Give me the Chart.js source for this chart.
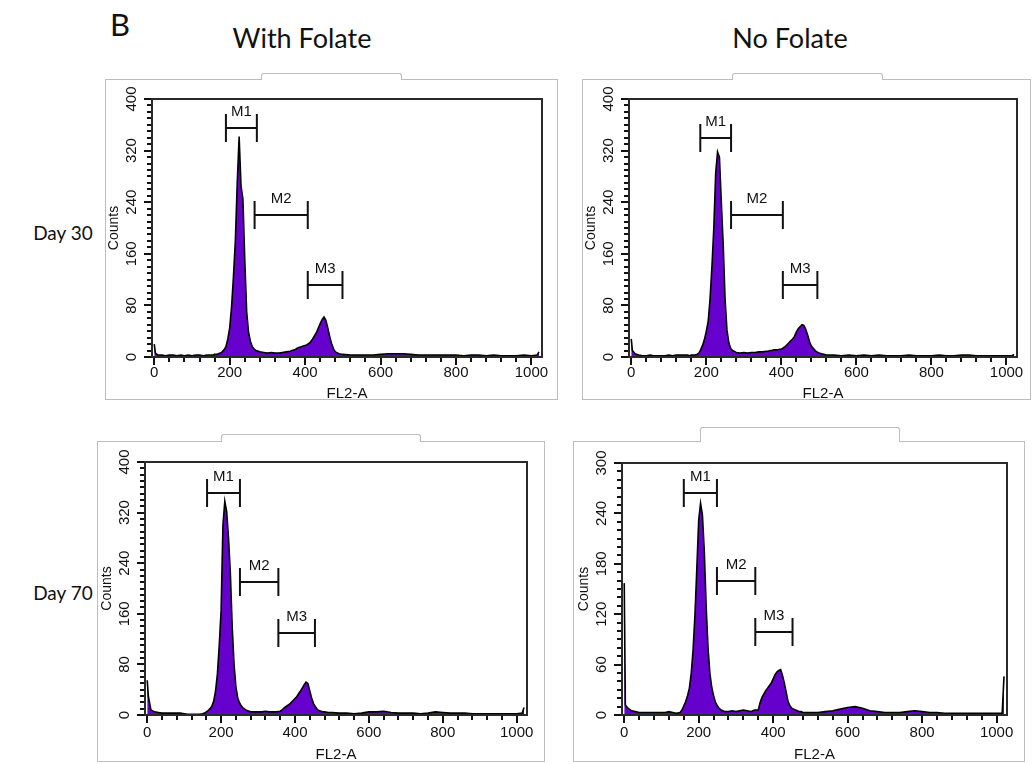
<!DOCTYPE html>
<html>
<head>
<meta charset="utf-8">
<script src="https://cdn.jsdelivr.net/npm/chart.js@4.4.1/dist/chart.umd.min.js"></script>
<style>
    body { margin: 0; width: 1033px; height: 764px; position: relative; overflow: hidden; background: #fff; font-family: Lato, "Open Sans", sans-serif; }
    .label { position: absolute; color: #111; white-space: nowrap; line-height: 1; transform: translate(-50%, -50%); }
    .frame { position: absolute; border: 1px solid #bdbdbd; box-sizing: border-box; }
    .tab { position: absolute; border: 1px solid #bdbdbd; border-bottom: none; background: #fff; border-radius: 3px 3px 0 0; box-sizing: border-box; }
    canvas { position: absolute; }
</style>
</head>
<body>
<div class="frame" style="left:105px; top:79px; width:453px; height:321px;"></div>
<div class="tab" style="left:261px; top:73px; width:141px; height:7px;"></div>
<div class="frame" style="left:582px; top:79px; width:449px; height:321px;"></div>
<div class="tab" style="left:732px; top:73px; width:151px; height:7px;"></div>
<div class="frame" style="left:97px; top:441px; width:448px; height:321px;"></div>
<div class="tab" style="left:221px; top:434px; width:200px; height:8px;"></div>
<div class="frame" style="left:573px; top:441px; width:452px; height:321px;"></div>
<div class="tab" style="left:700px; top:427px; width:200px; height:15px;"></div>

<div class="label" style="left:120px; top:24px; font-size:31px;">B</div>
<div class="label" style="left:302px; top:37px; font-size:27px;">With Folate</div>
<div class="label" style="left:790px; top:37px; font-size:27px;">No Folate</div>
<div class="label" style="left:63px; top:232px; font-size:19px;">Day 30</div>
<div class="label" style="left:63px; top:592px; font-size:19px;">Day 70</div>

<canvas id="withD30"></canvas>
<canvas id="noD30"></canvas>
<canvas id="withD70"></canvas>
<canvas id="noD70"></canvas>

<script>
// FL2-A channels (denser around the G1 and G2 peaks)
const channels = [0, 3, 10, 20, 30, 40, 50, 60, 70, 80, 90, 100, 110, 120, 130, 140, 150,
    155, 160, 165, 170, 175, 180, 185, 190, 195, 200, 205, 210, 215, 220, 225, 230, 235, 240, 245, 250, 255, 260, 265, 270,
    280, 290, 300, 310, 320, 330, 340, 350, 360,
    365, 370, 375, 380, 385, 390, 395, 400, 405, 410, 415, 420, 425, 430, 435, 440, 445, 450, 455, 460, 465, 470, 475, 480,
    490, 500,
    520, 540, 560, 580, 600, 620, 640, 660, 680, 700, 720, 740, 760, 780, 800, 820, 840, 860, 880, 900, 920, 940, 960, 980, 1000,
    1015, 1020];

const countsWithD30 = [20, 6, 3, 3, 2, 3, 3, 2, 3, 2, 3, 2, 3, 3, 2, 3, 3,
    3, 4, 4, 5, 6, 8, 11, 16, 28, 45, 78, 125, 180, 270, 342, 265, 245, 150, 70, 38, 24, 16, 12, 10,
    8, 7, 6, 7, 6, 6, 7, 8, 9,
    10, 11, 12, 14, 15, 16, 17, 18, 19, 21, 24, 28, 33, 38, 45, 52, 58, 62, 57, 45, 32, 21, 13, 8,
    5, 4,
    3, 3, 3, 3, 4, 5, 5, 5, 4, 3, 3, 3, 3, 3, 3, 2, 3, 3, 2, 3, 2, 2, 2, 3, 2,
    3, 8];

const countsNoD30 = [28, 10, 5, 3, 2, 2, 3, 2, 2, 2, 2, 3, 2, 3, 3, 3, 3,
    2, 3, 3, 3, 4, 6, 11, 18, 27, 40, 55, 90, 140, 200, 285, 318, 310, 240, 175, 90, 42, 22, 13, 10,
    7, 6, 7, 6, 7, 7, 8, 8, 9,
    9, 10, 10, 11, 11, 11, 12, 12, 14, 16, 19, 22, 25, 28, 32, 39, 44, 47, 50, 49, 43, 34, 24, 17,
    10, 6,
    3, 3, 2, 3, 2, 3, 2, 3, 2, 2, 2, 3, 2, 2, 2, 3, 2, 2, 3, 3, 2, 2, 2, 2, 2,
    2, 4];

const countsWithD70 = [55, 30, 8, 5, 4, 3, 3, 3, 3, 3, 3, 2, 1, 1, 1, 1, 2,
    3, 5, 7, 10, 14, 22, 38, 65, 110, 165, 300, 338, 322, 280, 225, 140, 80, 45, 27, 19, 14, 11, 9, 7,
    5, 5, 5, 5, 6, 5, 5, 5, 6,
    8, 11, 13, 15, 17, 20, 23, 26, 29, 34, 38, 43, 48, 52, 50, 38, 27, 18, 13, 9, 7, 6, 5, 5,
    4, 4,
    3, 3, 2, 3, 5, 5, 6, 4, 3, 3, 3, 2, 3, 5, 4, 3, 3, 3, 2, 2, 2, 2, 2, 2, 2,
    3, 12];

const countsNoD70 = [157, 12, 8, 5, 4, 3, 3, 3, 3, 3, 3, 3, 3, 4, 3, 2, 3,
    6, 11, 16, 23, 32, 50, 78, 120, 175, 232, 252, 238, 195, 130, 80, 50, 33, 23, 15, 11, 8, 6, 5, 4,
    4, 5, 4, 5, 6, 5, 4, 6, 6,
    15, 21, 25, 29, 32, 35, 38, 43, 48, 51, 53, 54, 47, 38, 27, 16, 11, 8, 7, 6, 5, 4, 4, 3,
    3, 3,
    3, 4, 5, 7, 9, 10, 8, 5, 4, 3, 3, 3, 4, 5, 4, 3, 3, 2, 2, 2, 2, 2, 2, 2, 2,
    2, 46];

// marker gates: [start, end, height in counts]
const gateNames = ['M1', 'M2', 'M3'];
const gatesWithD30 = [[190, 272, 355], [266, 407, 220], [407, 499, 112]];
const gatesNoD30 = [[184, 266, 339], [266, 404, 220], [404, 496, 112]];
const gatesWithD70 = [[162, 251, 351], [251, 355, 211], [355, 454, 130]];
const gatesNoD70 = [[160, 249, 264], [249, 352, 159], [352, 452, 99]];

const xTicks = [0, 200, 400, 600, 800, 1000];
const yTicks400 = [0, 80, 160, 240, 320, 400];
const yTicks300 = [0, 60, 120, 180, 240, 300];
const xMinorStep = 40;
const yMinorStep = 10;

const axisFont = 'Liberation Sans, Arial, sans-serif';
const ink = '#111';

// plot area boxes (left, top, right, bottom) in page pixels
const panels = [
    { id: 'withD30', counts: countsWithD30, gates: gatesWithD30, yTicks: yTicks400, area: [152, 99, 542, 357], tickPad: 0, xAxisH: 46 },
    { id: 'noD30', counts: countsNoD30, gates: gatesNoD30, yTicks: yTicks400, area: [629, 99, 1017, 357], tickPad: 0, xAxisH: 46 },
    { id: 'withD70', counts: countsWithD70, gates: gatesWithD70, yTicks: yTicks400, area: [145, 462, 527, 715], tickPad: 2, xAxisH: 49 },
    { id: 'noD70', counts: countsNoD70, gates: gatesNoD70, yTicks: yTicks300, area: [622, 463, 1007, 715], tickPad: 2, xAxisH: 49 }
];

const Y_AXIS_W = 46;
const PAD = { top: 20, right: 14, bottom: 8, left: 0 };

// tick marks (major and minor), plot box and the M1/M2/M3 gates
const facsDecor = {
    id: 'facsDecor',
    afterDraw(chart, args, opts) {
        const { ctx, chartArea: a, scales: { x, y } } = chart;
        ctx.save();
        ctx.fillStyle = ink;
        for (let v = 0; v <= x.max; v += xMinorStep) {
            const px = Math.round(x.getPixelForValue(v));
            const len = xTicks.includes(v) ? 8 : 5;
            ctx.fillRect(px - 1, a.bottom, 2, len);
        }
        for (let v = 0; v <= y.max; v += yMinorStep) {
            const py = Math.round(y.getPixelForValue(v));
            const len = opts.yTicks.includes(v) ? 8 : 5;
            ctx.fillRect(a.left - len, py - 1, len, 2);
        }

        ctx.lineWidth = 2;
        ctx.strokeStyle = '#2a2a2a';
        ctx.strokeRect(a.left, a.top, a.right - a.left, a.bottom - a.top);

        ctx.strokeStyle = ink;
        ctx.lineWidth = 2;
        ctx.font = '15px ' + axisFont;
        ctx.textAlign = 'center';
        ctx.textBaseline = 'middle';
        opts.gates.forEach((g, i) => {
            const x1 = x.getPixelForValue(g[0]);
            const x2 = x.getPixelForValue(g[1]);
            const py = Math.round(y.getPixelForValue(g[2]));
            ctx.beginPath();
            ctx.moveTo(x1, py); ctx.lineTo(x2, py);
            ctx.moveTo(x1, py - 14); ctx.lineTo(x1, py + 14);
            ctx.moveTo(x2, py - 14); ctx.lineTo(x2, py + 14);
            ctx.stroke();
            ctx.fillText(gateNames[i], (x1 + x2) / 2, py - 16);
        });
        ctx.restore();
    }
};

panels.forEach(p => {
    const [l, t, r, b] = p.area;
    const canvas = document.getElementById(p.id);
    canvas.width = (r - l) + Y_AXIS_W + PAD.right;
    canvas.height = (b - t) + PAD.top + p.xAxisH + PAD.bottom;
    canvas.style.left = (l - Y_AXIS_W) + 'px';
    canvas.style.top = (t - PAD.top) + 'px';

    const yMax = p.yTicks[p.yTicks.length - 1];

    new Chart(canvas.getContext('2d'), {
        type: 'line',
        data: {
            datasets: [{
                data: channels.map((c, i) => ({ x: c, y: p.counts[i] })),
                borderColor: '#000',
                borderWidth: 1.6,
                backgroundColor: '#6600cc',
                fill: 'origin',
                pointRadius: 0,
                tension: 0
            }]
        },
        options: {
            responsive: false,
            animation: false,
            layout: { padding: PAD },
            plugins: {
                legend: { display: false },
                tooltip: { enabled: false },
                facsDecor: { gates: p.gates, yTicks: p.yTicks }
            },
            scales: {
                x: {
                    type: 'linear',
                    min: -6,
                    max: 1028,
                    afterBuildTicks: s => { s.ticks = xTicks.map(v => ({ value: v })); },
                    afterFit: s => { s.height = p.xAxisH; },
                    grid: { drawOnChartArea: false, drawTicks: true, tickLength: 8, tickColor: 'rgba(0,0,0,0)' },
                    border: { display: false },
                    ticks: {
                        font: { family: axisFont, size: 15 },
                        color: ink,
                        padding: p.tickPad - 1,
                        maxRotation: 0,
                        autoSkip: false,
                        callback: v => String(v)
                    },
                    title: { display: true, text: 'FL2-A', font: { family: axisFont, size: 15 }, color: ink, padding: 0 }
                },
                y: {
                    type: 'linear',
                    min: 0,
                    max: yMax,
                    afterBuildTicks: s => { s.ticks = p.yTicks.map(v => ({ value: v })); },
                    afterFit: s => { s.width = Y_AXIS_W; },
                    grid: { drawOnChartArea: false, drawTicks: true, tickLength: 8, tickColor: 'rgba(0,0,0,0)' },
                    border: { display: false },
                    ticks: {
                        font: { family: axisFont, size: 15 },
                        color: ink,
                        padding: 0,
                        minRotation: 90,
                        maxRotation: 90,
                        crossAlign: 'center',
                        autoSkip: false,
                        callback: v => String(v)
                    },
                    title: { display: true, text: 'Counts', font: { family: axisFont, size: 14 }, color: ink, padding: 0 }
                }
            }
        },
        plugins: [facsDecor]
    });
});
</script>
</body>
</html>
